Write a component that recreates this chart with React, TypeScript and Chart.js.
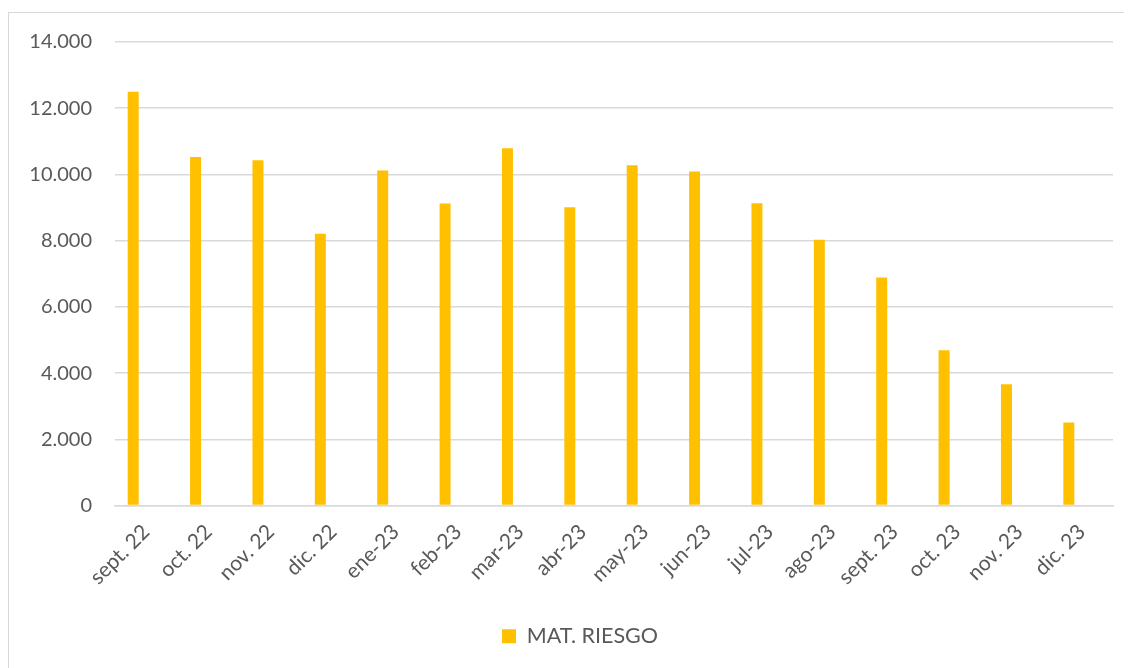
import React, { useEffect, useRef } from "react";
import { Chart, registerables } from "chart.js";

Chart.register(...registerables);

const categories = [
  "sept. 22", "oct. 22", "nov. 22", "dic. 22", "ene-23", "feb-23", "mar-23", "abr-23",
  "may-23", "jun-23", "jul-23", "ago-23", "sept. 23", "oct. 23", "nov. 23", "dic. 23",
];
const matRiesgo = [
  12500, 10530, 10430, 8210, 10120, 9120, 10790, 9010,
  10280, 10090, 9130, 8030, 6890, 4690, 3660, 2510,
];
// empty second series slot (as in the original workbook layout)
const emptySeries = categories.map(() => null);
const seriesName = "MAT. RIESGO";
const yMax = 14000;
const yStep = 2000;

const FONT = "Lato, 'Open Sans', sans-serif";
const TEXT = "#595959";
const GRID = "#D9D9D9";

export default function App() {
  const ref = useRef<HTMLCanvasElement | null>(null);
  useEffect(() => {
    if (!ref.current) return;
    const chart = new Chart(ref.current, {
      type: "bar",
      data: {
        labels: categories,
        datasets: [
          {
            label: seriesName,
            data: matRiesgo,
            backgroundColor: "#FFC000",
            borderWidth: 0,
            categoryPercentage: 0.833,
            barPercentage: 0.423,
          },
          {
            label: "",
            data: emptySeries as any,
            backgroundColor: "rgba(0,0,0,0)",
            borderWidth: 0,
            categoryPercentage: 0.833,
            barPercentage: 0.423,
          },
        ],
      },
      options: {
        responsive: false,
        animation: false,
        layout: { padding: { top: 29, right: 0, left: 20, bottom: 14 } },
        plugins: {
          tooltip: { enabled: false },
          legend: {
            position: "bottom",
            labels: {
              filter: (item: any) => item.datasetIndex === 0,
              color: TEXT,
              font: { family: FONT, size: 21.5 },
              boxWidth: 14,
              boxHeight: 14,
              padding: 10,
            },
          },
        },
        scales: {
          x: {
            grid: { display: false },
            border: { display: true, color: GRID, width: 1.5 },
            ticks: {
              color: TEXT,
              font: { family: FONT, size: 21 },
              maxRotation: 45,
              minRotation: 45,
              autoSkip: false,
              padding: 6,
            },
            afterFit: (s: any) => {
              s.height = 110;
              s.paddingTop = 0;
              s.paddingBottom = 0;
              s.paddingLeft = 0;
              s.paddingRight = 18;
            },
          },
          y: {
            min: 0,
            max: yMax,
            grid: { color: GRID, lineWidth: 1.5, drawTicks: false },
            border: { display: false },
            ticks: {
              stepSize: yStep,
              color: TEXT,
              font: { family: FONT, size: 20 },
              padding: 23,
              callback: (v: any) => Number(v).toString().replace(/\B(?=(\d{3})+(?!\d))/g, "."),
            },
            afterFit: (s: any) => {
              s.width = 86;
              s.paddingTop = 0;
              s.paddingBottom = 0;
            },
          },
        },
      },
    });
    return () => chart.destroy();
  }, []);
  return (
    <div
      style={{
        marginTop: 4,
        width: 1124,
        height: 660,
        border: `1px solid ${GRID}`,
        boxSizing: "border-box",
        background: "#fff",
      }}
    >
      <canvas ref={ref} width={1122} height={658} style={{ display: "block" }} />
    </div>
  );
}
